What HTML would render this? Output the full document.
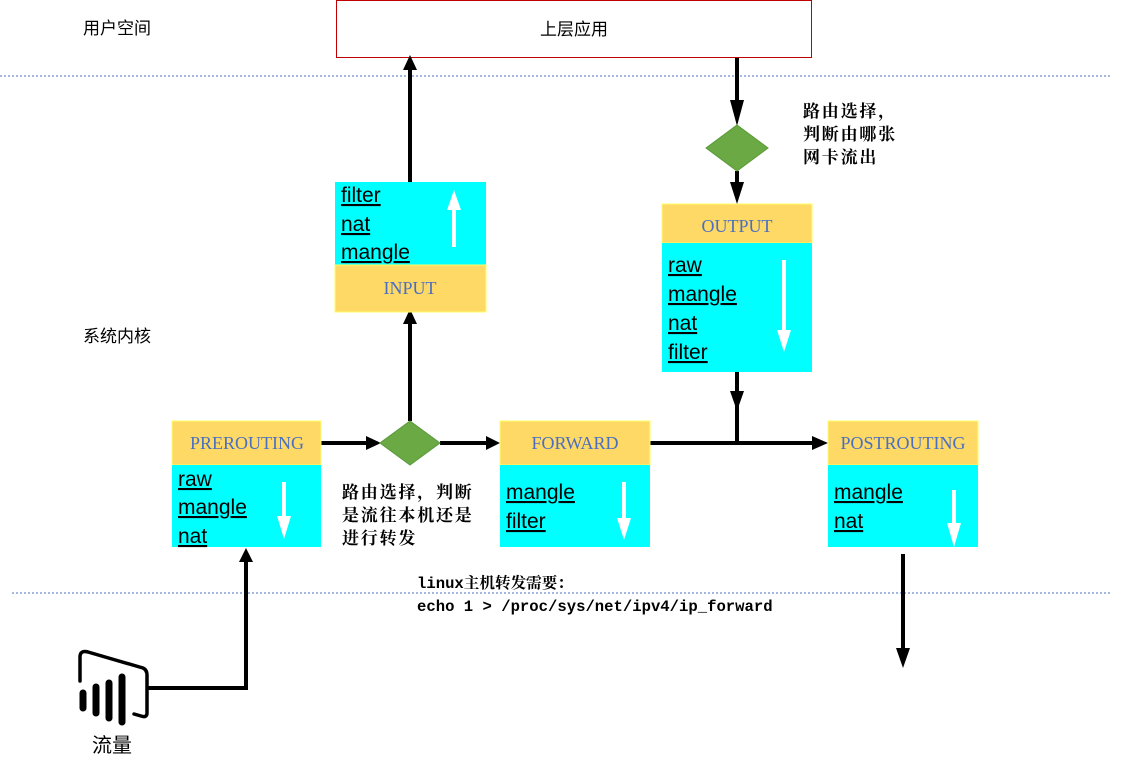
<!DOCTYPE html>
<html><head><meta charset="utf-8"><style>
html,body{margin:0;padding:0;background:#fff;}
svg{display:block;}
.u{font-family:"Liberation Sans","DejaVu Sans",sans-serif;font-size:21px;text-decoration:underline;fill:#000;}
.h{font-family:"Liberation Serif",serif;font-size:18px;fill:#4a6fc0;}
.c{font-family:"Liberation Serif","Noto Serif CJK SC",serif;font-size:17px;letter-spacing:1.8px;fill:#000;font-weight:bold;}
.k{font-family:"Liberation Sans","Noto Sans CJK SC",sans-serif;font-size:17px;fill:#000;}
.m{font-family:"Liberation Mono","Noto Serif CJK SC",monospace;font-size:15.6px;fill:#000;font-weight:bold;}
</style></head><body>
<svg width="1127" height="768" viewBox="0 0 1127 768" xmlns="http://www.w3.org/2000/svg">
<line x1="0" y1="76" x2="1112" y2="76" stroke="#4a6fc0" stroke-width="1" stroke-dasharray="2,2"/>
<line x1="12" y1="593" x2="1112" y2="593" stroke="#4a6fc0" stroke-width="1" stroke-dasharray="2,2"/>
<text x="83" y="34" class="k">用户空间</text>
<text x="83" y="342" class="k">系统内核</text>
<rect x="336.5" y="0.5" width="475" height="57" fill="#fff" stroke="#c00000" stroke-width="1"/>
<text x="574" y="35" class="k" text-anchor="middle">上层应用</text>

<g stroke="#000" stroke-width="4" fill="none">
<line x1="410" y1="182" x2="410" y2="70"/>
<line x1="410" y1="421" x2="410" y2="324"/>
<line x1="737" y1="58" x2="737" y2="113"/>
<line x1="737" y1="171" x2="737" y2="192"/>
<line x1="737" y1="372" x2="737" y2="443"/>
<line x1="650" y1="443" x2="816" y2="443"/>
<line x1="321" y1="443" x2="368" y2="443"/>
<line x1="440" y1="443" x2="488" y2="443"/>
<line x1="903" y1="554" x2="903" y2="655"/>
<polyline points="148,688 246,688 246,560"/>
</g>
<g fill="#000">
<path d="M403,70 L417,70 L410,55z"/>
<path d="M403,324 L417,324 L410,309z"/>
<path d="M730,100 L744,100 L737,126z"/>
<path d="M730,182 L744,182 L737,204z"/>
<path d="M730,391 L744,391 L737,411z"/>
<path d="M812,436 L812,450 L828,443z"/>
<path d="M366,436 L366,450 L381,443z"/>
<path d="M486,436 L486,450 L500,443z"/>
<path d="M896,648 L910,648 L903,668z"/>
<path d="M239,562 L253,562 L246,548z"/>
</g>

<polygon points="410,421 440,443 410,465 380,443" fill="#6aa944" stroke="#5a9a3a"/>
<polygon points="737,125 768,148 737,171 706,148" fill="#6aa944" stroke="#5a9a3a"/>

<rect x="335" y="182" width="151" height="83" fill="#00ffff"/>
<rect x="335" y="265" width="151" height="47" fill="#ffd966" stroke="#ffff66" stroke-width="1"/>
<text x="341" y="202" class="u">filter</text>
<text x="341" y="231" class="u">nat</text>
<text x="341" y="259" class="u">mangle</text>
<text x="410" y="294" class="h" text-anchor="middle">INPUT</text>
<line x1="454" y1="247" x2="454" y2="207" stroke="#fff" stroke-width="4"/>
<path d="M447,210 L461,210 L454,190z" fill="#fff"/>

<rect x="662" y="204" width="150" height="39" fill="#ffd966" stroke="#ffff66"/>
<rect x="662" y="243" width="150" height="129" fill="#00ffff"/>
<text x="737" y="232" class="h" text-anchor="middle">OUTPUT</text>
<text x="668" y="272" class="u">raw</text>
<text x="668" y="301" class="u">mangle</text>
<text x="668" y="330" class="u">nat</text>
<text x="668" y="359" class="u">filter</text>
<line x1="784" y1="260" x2="784" y2="332" stroke="#fff" stroke-width="4"/>
<path d="M777,330 L791,330 L784,352z" fill="#fff"/>
<text x="803" y="117" class="c">路由选择，</text>
<text x="803" y="140" class="c">判断由哪张</text>
<text x="803" y="163" class="c">网卡流出</text>

<rect x="172" y="421" width="149" height="44" fill="#ffd966" stroke="#ffff66"/>
<rect x="172" y="465" width="149" height="82" fill="#00ffff"/>
<text x="247" y="449" class="h" text-anchor="middle">PREROUTING</text>
<text x="178" y="486" class="u">raw</text>
<text x="178" y="514" class="u">mangle</text>
<text x="178" y="543" class="u">nat</text>
<line x1="284" y1="482" x2="284" y2="518" stroke="#fff" stroke-width="4"/>
<path d="M277,516 L291,516 L284,539z" fill="#fff"/>

<text x="342" y="498" class="c">路由选择，判断</text>
<text x="342" y="521" class="c">是流往本机还是</text>
<text x="342" y="544" class="c">进行转发</text>

<rect x="500" y="421" width="150" height="44" fill="#ffd966" stroke="#ffff66"/>
<rect x="500" y="465" width="150" height="82" fill="#00ffff"/>
<text x="575" y="449" class="h" text-anchor="middle">FORWARD</text>
<text x="506" y="499" class="u">mangle</text>
<text x="506" y="528" class="u">filter</text>
<line x1="624" y1="482" x2="624" y2="520" stroke="#fff" stroke-width="4"/>
<path d="M617,518 L631,518 L624,540z" fill="#fff"/>

<rect x="828" y="421" width="150" height="44" fill="#ffd966" stroke="#ffff66"/>
<rect x="828" y="465" width="150" height="82" fill="#00ffff"/>
<text x="903" y="449" class="h" text-anchor="middle">POSTROUTING</text>
<text x="834" y="499" class="u">mangle</text>
<text x="834" y="528" class="u">nat</text>
<line x1="954" y1="490" x2="954" y2="525" stroke="#fff" stroke-width="4"/>
<path d="M947,523 L961,523 L954,547z" fill="#fff"/>

<text x="417" y="588" class="m">linux主机转发需要：</text>
<text x="417" y="611" class="m">echo 1 &gt; /proc/sys/net/ipv4/ip_forward</text>

<g stroke="#000" stroke-width="3.5" fill="none" stroke-linecap="round" stroke-linejoin="round">
<path d="M80,681 L80,657 Q80,650 88,652 L143,668 Q147,670 147,675 L147,713 Q147,718 141,716 L134,714"/>
</g>
<g stroke="#000" stroke-linecap="round">
<line x1="83" y1="693" x2="83" y2="708" stroke-width="7"/>
<line x1="96" y1="687" x2="96" y2="713" stroke-width="7"/>
<line x1="109" y1="683" x2="109" y2="718" stroke-width="7"/>
<line x1="122" y1="677" x2="122" y2="722" stroke-width="7"/>
</g>
<text x="112" y="752" class="k" text-anchor="middle" style="font-size:20px">流量</text>
</svg>
</body></html>
